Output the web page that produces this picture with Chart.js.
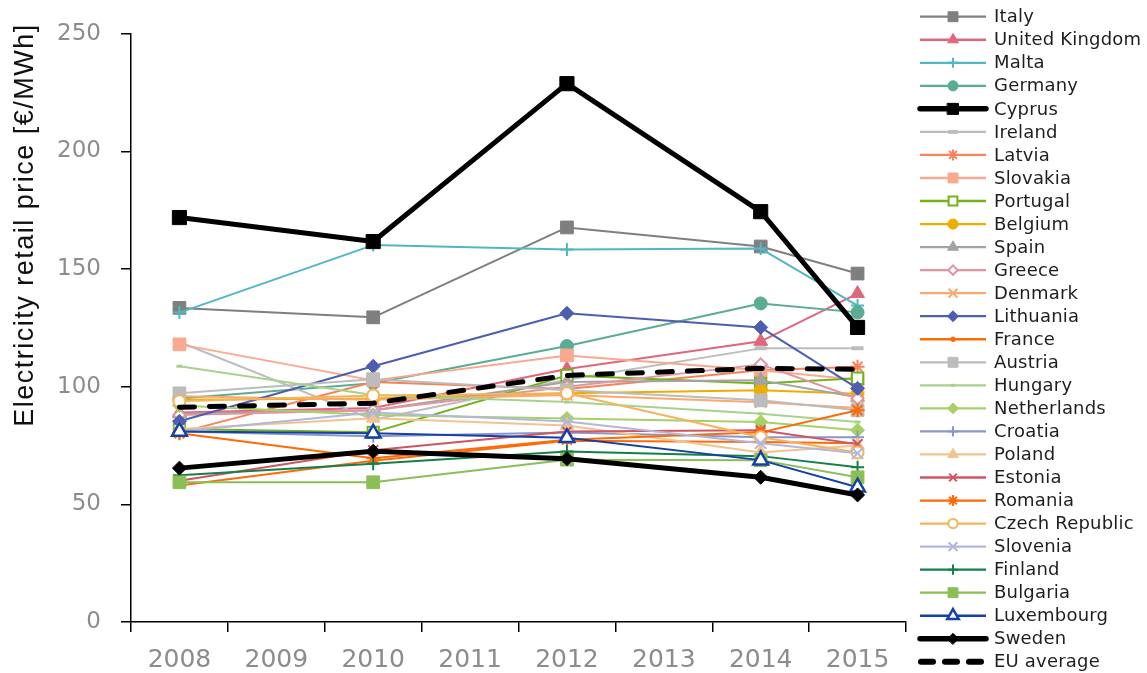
<!DOCTYPE html>
<html><head><meta charset="utf-8">
<script src="https://cdn.jsdelivr.net/npm/chart.js@4.4.0/dist/chart.umd.min.js"></script>
<style>html,body{margin:0;padding:0;background:#fff;} #wrap{width:1147px;height:673px;}</style>
</head><body><div id="wrap"><canvas id="c" width="1147" height="673"></canvas></div>
<script>
// ---- Data ----
const years = ['2008','2009','2010','2011','2012','2013','2014','2015'];
const pointYears = ['2008','2010','2012','2014','2015'];
const countries = ['Italy','United Kingdom','Malta','Germany','Cyprus','Ireland','Latvia','Slovakia','Portugal','Belgium','Spain','Greece','Denmark','Lithuania','France','Austria','Hungary','Netherlands','Croatia','Poland','Estonia','Romania','Czech Republic','Slovenia','Finland','Bulgaria','Luxembourg','Sweden','EU average'];

const italy         = [133.5, 129.5, 167.7, 159.6, 148.1];
const unitedKingdom = [89, 91, 107.5, 119.3, 139.6];
const malta         = [131.5, 160.2, 158.3, 158.7, 134.5];
const germany       = [95, 101.5, 117.3, 135.4, 131.6];
const cyprus        = [171.9, 161.7, 228.8, 174.4, 125.2];
const ireland       = [119, 86, 103, 116.3, 116.3];
const latvia        = [80.5, 102, 99, 107, 108.5];
const slovakia      = [118, 102.7, 113.3, 107, 103];
const portugal      = [82, 80.6, 104.8, 101.4, 103.6];
const belgium       = [94.5, 95, 97.2, 98.5, 97];
const spain         = [88.5, 90, 102, 102.7, 95.5];
const greece        = [88, 90, 100, 109.5, 95];
const denmark       = [96, 94.5, 96.5, 93.4, 91];
const lithuania     = [85.3, 108.7, 131.2, 125.2, 99.3];
const france        = [58, 68.5, 77, 76.5, 76];
const austria       = [97.2, 103.2, 98.5, 94.2, 90];
const hungary       = [108.7, 96.5, 93.5, 88.5, 85];
const netherlands   = [92, 88, 86.5, 85, 81.5];
const croatia       = [81, 79, 80.5, 78.5, 78.5];
const poland        = [82, 86.6, 83.5, 72, 75];
const estonia       = [60, 73, 81, 81.5, 75.6];
const romania       = [80.2, 69.6, 77.5, 80.6, 90];
const czechRepublic = [93.8, 96.3, 97.2, 78.5, 72];
const slovenia      = [81, 89, 85.2, 76, 71.7];
const finland       = [62.4, 67.3, 72.5, 70.5, 65.8];
const bulgaria      = [59.4, 59.4, 69, 68.8, 61.5];
const luxembourg    = [81, 80.2, 78.3, 68.8, 57.3];
const sweden        = [65.4, 72.6, 69.4, 61.5, 54];
const euAverage     = [91.3, 93, 104.8, 107.8, 107.4];

const seriesValues = [italy, unitedKingdom, malta, germany, cyprus, ireland, latvia, slovakia, portugal, belgium, spain, greece, denmark, lithuania, france, austria, hungary, netherlands, croatia, poland, estonia, romania, czechRepublic, slovenia, finland, bulgaria, luxembourg, sweden, euAverage];

const yTicks = [0, 50, 100, 150, 200, 250];
const yTitle = 'Electricity retail price [€/MWh]';

// ---- Styles ----
const styles = [
 {c:'#7f7f7f', p:'rect', r:9},
 {c:'#e0667e', p:'triangle', r:8},
 {c:'#4fb8c4', p:'cross', r:6.5, bw:2},
 {c:'#5aac93', p:'circle', r:6.5},
 {c:'#000000', p:'rect', r:10, w:5},
 {c:'#bdbdbd', p:'line', r:6, bw:4},
 {c:'#f8825a', p:'star', r:7, bw:2},
 {c:'#f9a98f', p:'rect', r:9},
 {c:'#74b21c', p:'rect', r:8, open:true, bw:2},
 {c:'#edae00', p:'circle', r:6.5},
 {c:'#a3a3a3', p:'triangle', r:8},
 {c:'#e1969f', p:'rectRot', r:6, open:true, bw:2},
 {c:'#fca96e', p:'crossRot', r:8, bw:2},
 {c:'#4d5daf', p:'rectRot', r:7},
 {c:'#fc6a0a', p:'circle', r:3},
 {c:'#bcbcbc', p:'rect', r:9},
 {c:'#a9d18e', p:'line', r:3, bw:3},
 {c:'#a6d167', p:'rectRot', r:7},
 {c:'#8b97cb', p:'cross', r:6.5, bw:2},
 {c:'#f1c48f', p:'triangle', r:8},
 {c:'#cf5660', p:'crossRot', r:7, bw:2},
 {c:'#fd6a06', p:'star', r:7, bw:2},
 {c:'#f3b45c', p:'circle', r:6, open:true, bw:2},
 {c:'#b3b7da', p:'crossRot', r:8, bw:2},
 {c:'#138049', p:'cross', r:6.5, bw:2},
 {c:'#8bbf56', p:'rect', r:9},
 {c:'#1541a6', p:'triangle', r:8.5, open:true, bw:2.5},
 {c:'#000000', p:'rectRot', r:7, w:5},
 {c:'#000000', p:false, r:0, w:5, dash:true}
];

function expand(vals) {
  return years.map(y => { const k = pointYears.indexOf(y); return k >= 0 ? vals[k] : null; });
}

const datasets = countries.map((name, i) => {
  const s = styles[i];
  return {
    label: name,
    data: expand(seriesValues[i]),
    spanGaps: true,
    borderColor: s.c,
    borderWidth: s.w || 2,
    borderDash: s.dash ? [15, 15] : [],
    borderCapStyle: s.dash ? 'round' : 'butt',
    borderJoinStyle: 'round',
    tension: 0,
    pointStyle: s.p,
    pointRadius: s.r,
    pointHoverRadius: s.r,
    pointBackgroundColor: s.open ? '#ffffff' : s.c,
    pointBorderColor: s.c,
    pointBorderWidth: s.bw || 1,
    order: countries.length - i,
    fill: false
  };
});

const sideLegend = {
  id: 'sideLegend',
  afterDraw(chart) {
    const ctx = chart.ctx;
    chart.data.datasets.forEach((ds, i) => {
      const s = styles[i];
      const y = 16.7 + 23.04 * i;
      ctx.save();
      ctx.strokeStyle = ds.borderColor;
      if (s.dash) {
        ctx.lineWidth = 6; ctx.lineCap = 'round'; ctx.setLineDash([12, 12]);
        ctx.beginPath(); ctx.moveTo(921, y); ctx.lineTo(985, y); ctx.stroke();
      } else if (s.w) {
        ctx.lineWidth = 5.5; ctx.lineCap = 'round';
        ctx.beginPath(); ctx.moveTo(920, y); ctx.lineTo(986, y); ctx.stroke();
      } else {
        ctx.lineWidth = 2.3;
        ctx.beginPath(); ctx.moveTo(920, y); ctx.lineTo(986, y); ctx.stroke();
      }
      ctx.setLineDash([]);
      if (s.p) {
        ctx.fillStyle = ds.pointBackgroundColor;
        ctx.strokeStyle = ds.pointBorderColor;
        ctx.lineWidth = ds.pointBorderWidth;
        Chart.helpers.drawPoint(ctx, {pointStyle: s.p, radius: s.r * 0.78, borderWidth: ds.pointBorderWidth, rotation: 0}, 953, y);
      }
      ctx.fillStyle = '#1e1e1e';
      ctx.font = '18px "DejaVu Sans"';
      try { ctx.letterSpacing = '0.2px'; } catch (e) {}
      ctx.textAlign = 'left';
      ctx.textBaseline = 'middle';
      ctx.fillText(ds.label, 994, y + 1);
      ctx.restore();
    });
    // y-axis title
    ctx.save();
    ctx.translate(25.5, 225);
    ctx.rotate(-Math.PI / 2);
    ctx.fillStyle = '#111';
    ctx.font = '27px "Liberation Sans"';
    try { ctx.letterSpacing = '1.5px'; } catch (e) {}
    ctx.textAlign = 'center';
    ctx.textBaseline = 'middle';
    ctx.fillText(yTitle, 0, 0);
    ctx.restore();
  }
};

new Chart(document.getElementById('c'), {
  type: 'line',
  data: { labels: years, datasets },
  options: {
    responsive: false,
    animation: false,
    devicePixelRatio: 1,
    layout: { padding: { top: 33, right: 241, bottom: 0, left: 0 } },
    plugins: { legend: { display: false }, tooltip: { enabled: false } },
    scales: {
      x: {
        type: 'category',
        offset: true,
        grid: { offset: true, drawOnChartArea: false, drawTicks: true, tickLength: 10, color: '#000', lineWidth: 1.5 },
        border: { display: true, color: '#000', width: 1.5 },
        ticks: { color: '#8c8c8c', font: { family: 'DejaVu Sans', size: 25 }, padding: 13, maxRotation: 0, autoSkip: false },
        afterFit(s) { s.height = 51; }
      },
      y: {
        min: 0, max: 250,
        afterBuildTicks(s) { s.ticks = yTicks.map(v => ({ value: v })); },
        grid: { drawOnChartArea: false, drawTicks: true, tickLength: 10, color: '#000', lineWidth: 1.5 },
        border: { display: true, color: '#000', width: 1.5 },
        ticks: { color: '#8c8c8c', font: { family: 'DejaVu Sans', size: 23 }, padding: 20 },
        afterFit(s) { s.width = 131; }
      }
    }
  },
  plugins: [sideLegend]
});
</script></body></html>
